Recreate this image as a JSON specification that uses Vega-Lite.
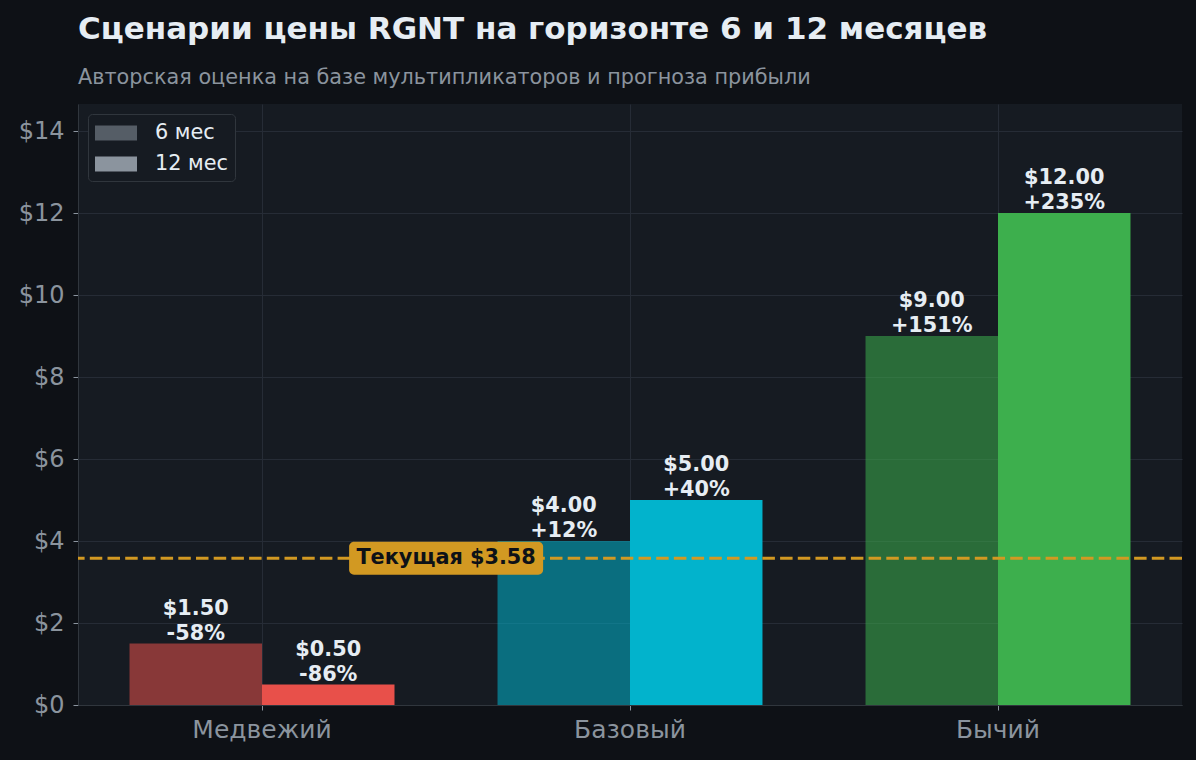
{
  "$schema": "https://vega.github.io/schema/vega-lite/v6.json",
  "description": "RGNT price scenarios at 6 and 12 months.",
  "width": 1104,
  "height": 601,
  "autosize": {"type": "none"},
  "padding": {"left": 78, "top": 104, "right": 14, "bottom": 55},
  "background": "#0e1116",
  "title": {
    "text": "Сценарии цены RGNT на горизонте 6 и 12 месяцев",
    "subtitle": "Авторская оценка на базе мультипликаторов и прогноза прибыли",
    "anchor": "start",
    "frame": "group",
    "font": "DejaVu Sans",
    "fontSize": 31,
    "fontWeight": "bold",
    "color": "#e6edf3",
    "subtitleFont": "DejaVu Sans",
    "subtitleFontSize": 20.8,
    "subtitleColor": "#8b949e",
    "subtitlePadding": 22,
    "offset": 15
  },
  "config": {
    "view": {"fill": "#161b22", "stroke": null},
    "font": "DejaVu Sans",
    "axis": {
      "gridColor": "#262c36",
      "gridWidth": 1,
      "domainColor": "#30363d",
      "tickColor": "#8b949e",
      "labelColor": "#8b949e",
      "labelFont": "DejaVu Sans"
    }
  },
  "data": {
    "values": [
      {"scenario": "Медвежий", "period": "6 мес", "price": 1.5, "label": "$1.50\n-58%"},
      {"scenario": "Медвежий", "period": "12 мес", "price": 0.5, "label": "$0.50\n-86%"},
      {"scenario": "Базовый", "period": "6 мес", "price": 4.0, "label": "$4.00\n+12%"},
      {"scenario": "Базовый", "period": "12 мес", "price": 5.0, "label": "$5.00\n+40%"},
      {"scenario": "Бычий", "period": "6 мес", "price": 9.0, "label": "$9.00\n+151%"},
      {"scenario": "Бычий", "period": "12 мес", "price": 12.0, "label": "$12.00\n+235%"}
    ]
  },
  "encoding": {
    "x": {
      "field": "scenario",
      "type": "nominal",
      "scale": {"domain": ["Медвежий", "Базовый", "Бычий"], "paddingInner": 0.28, "paddingOuter": 0.14},
      "axis": {"title": null, "labelAngle": 0, "labelFontSize": 25, "labelPadding": 7, "tickSize": 5, "grid": true}
    },
    "y": {
      "field": "price",
      "type": "quantitative",
      "scale": {"domain": [0, 14.66], "nice": false},
      "axis": {
        "title": null,
        "values": [0, 2, 4, 6, 8, 10, 12, 14],
        "format": "$.0f",
        "labelFontSize": 24,
        "labelPadding": 9,
        "tickSize": 5
      }
    }
  },
  "layer": [
    {
      "mark": {"type": "bar"},
      "encoding": {
        "xOffset": {"field": "period", "type": "nominal", "sort": ["6 мес", "12 мес"], "scale": {"paddingInner": 0}},
        "color": {
          "field": "scenario",
          "type": "nominal",
          "scale": {"domain": ["Медвежий", "Базовый", "Бычий"], "range": ["#e8504a", "#02b3cc", "#3daf4d"]},
          "legend": null
        },
        "opacity": {
          "field": "period",
          "type": "nominal",
          "sort": ["6 мес", "12 мес"],
          "scale": {"domain": ["6 мес", "12 мес"], "range": [0.55, 1]},
          "legend": {
            "title": null,
            "orient": "top-left",
            "offset": 10,
            "padding": 7,
            "fillColor": "#161b22",
            "strokeColor": "#30363d",
            "cornerRadius": 4,
            "labelFontSize": 20.8,
            "labelColor": "#e6edf3",
            "labelFont": "DejaVu Sans",
            "symbolType": "M-1,-0.625L2.5,-0.625L2.5,0.625L-1,0.625Z",
            "symbolSize": 576,
            "symbolFillColor": "#8b949e",
            "symbolStrokeWidth": 0,
            "rowPadding": 9,
            "labelOffset": 36,
            "encode": {"symbols": {"update": {"fill": {"value": "#8b949e"}, "stroke": {"value": "transparent"}}}}
          }
        }
      }
    },
    {
      "mark": {
        "type": "text",
        "fontWeight": "bold",
        "fontSize": 20.8,
        "color": "#e6edf3",
        "baseline": "bottom",
        "dy": -25,
        "lineBreak": "\n",
        "lineHeight": 25
      },
      "encoding": {
        "xOffset": {"field": "period", "type": "nominal", "sort": ["6 мес", "12 мес"]},
        "text": {"field": "label", "type": "nominal"}
      }
    },
    {
      "data": {"values": [{"price": 3.58, "scenario": "Базовый", "label": "Текущая $3.58"}]},
      "layer": [
        {
          "mark": {"type": "rule", "color": "#d29922", "strokeWidth": 3, "strokeDash": [12.5, 5.2]},
          "encoding": {"x": null, "y": {"field": "price", "type": "quantitative"}}
        },
        {
          "mark": {
            "type": "point",
            "filled": true,
            "color": "#d29922",
            "opacity": 1,
            "size": 37636,
            "shape": "M-0.95,-0.17L0.95,-0.17A0.05,0.05 0 0 1 1,-0.12L1,0.12A0.05,0.05 0 0 1 0.95,0.17L-0.95,0.17A0.05,0.05 0 0 1 -1,0.12L-1,-0.12A0.05,0.05 0 0 1 -0.95,-0.17Z"
          },
          "encoding": {"x": {"field": "scenario", "type": "nominal", "bandPosition": -0.194}}
        },
        {
          "mark": {"type": "text", "fontWeight": "bold", "fontSize": 20.8, "color": "#0d1117", "align": "center", "baseline": "middle"},
          "encoding": {
            "x": {"field": "scenario", "type": "nominal", "bandPosition": -0.194},
            "text": {"field": "label", "type": "nominal"}
          }
        }
      ]
    }
  ]
}
